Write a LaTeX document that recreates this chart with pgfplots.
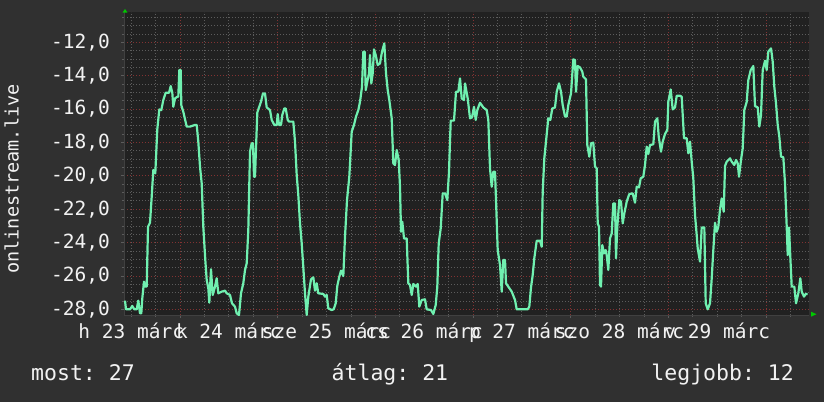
\documentclass[border=0pt]{standalone}
\usepackage{fontspec}
\setmainfont{DejaVu Sans Mono}
\usepackage{pgfplots}
\pgfplotsset{compat=1.18}
\frenchspacing
\definecolor{bgout}{RGB}{48,48,48}
\definecolor{bgplot}{RGB}{33,33,33}
\definecolor{mint}{RGB}{112,240,176}
\definecolor{gridmin}{RGB}{92,92,92}
\definecolor{gridmaj}{RGB}{130,50,50}
\definecolor{arrowgreen}{RGB}{0,200,0}
\definecolor{txt}{RGB}{242,242,242}
\definecolor{axgray}{RGB}{64,64,64}

\begin{document}
\frenchspacing
\begin{tikzpicture}[x=1bp,y=1bp]
\fill[bgout] (0,0) rectangle (824,402);
\begin{axis}[
  at={(124bp,87bp)}, anchor=south west,
  scale only axis, width=685bp, height=303bp,
  xmin=124, xmax=809, ymin=-28.34, ymax=-10.18,
  axis background/.style={fill=bgplot},
  axis x line*=bottom, axis y line*=left,
  axis line style={draw=axgray, line width=1bp},
  xtick={180,277.667,375.333,473,570.667,668.333,766},
  xticklabels={},
  minor xtick={131.17,155.58,204.42,228.83,253.25,302.08,326.5,350.92,399.75,424.17,448.58,497.42,521.83,546.25,595.08,619.5,643.92,692.75,717.17,741.58,790.42},
  ytick={-28,-26,-24,-22,-20,-18,-16,-14,-12},
  yticklabels={{-28,0},{-26,0},{-24,0},{-22,0},{-20,0},{-18,0},{-16,0},{-14,0},{-12,0}},
  minor ytick={-27.5,-27,-26.5,-25.5,-25,-24.5,-23.5,-23,-22.5,-21.5,-21,-20.5,-19.5,-19,-18.5,-17.5,-17,-16.5,-15.5,-15,-14.5,-13.5,-13,-12.5,-11.5,-11,-10.5},
  grid=both,
  major grid style={draw=gridmaj, line width=0.8bp, dash pattern=on 1bp off 2bp},
  minor grid style={draw=gridmin, line width=0.8bp, dash pattern=on 1bp off 2bp},
  tick align=outside,
  major tick length=3bp, minor tick length=2bp,
  every tick/.style={draw=gridmin, line width=0.8bp},
  tick label style={font=\fontsize{19.5bp}{22bp}\selectfont, text=txt},
  yticklabel style={anchor=east, inner sep=0pt, xshift=-11bp},
  extra x ticks={131.17,228.83,326.5,424.17,521.83,619.5,717.17},
  extra x tick labels={h 23 márc,k 24 márc,sze 25 márc,cs 26 márc,p 27 márc,szo 28 márc,v 29 márc},
  extra x tick style={grid=none, major tick length=0pt,
    xticklabel style={anchor=base, inner sep=0pt, yshift=-23bp}},
  clip=true,
]
\addplot[mint, line width=2.2bp, line join=round] coordinates {
(125,-27.48) (126,-28.0) (130,-28.0) (132.3,-27.8) (134.3,-28.0) (136.7,-28.0) (138.3,-27.48) (140,-28.24) (141.3,-28.24) (142.3,-27.34) (144,-26.34) (145,-26.64) (146.7,-26.64) (148,-23.05) (150,-22.81) (151.7,-21.25) (153.3,-19.65) (155.3,-19.85) (157.3,-17.21) (159.3,-16.02) (161.3,-16.06) (163.3,-15.46) (165.7,-15.02) (169,-15.02) (170.7,-14.62) (172.3,-15.02) (173.3,-15.86) (175,-15.36) (177.3,-15.26) (178.3,-15.26) (179.3,-13.66) (180.7,-13.66) (181.3,-15.76) (183.3,-16.16) (185,-16.61) (186.7,-17.05) (190,-17.05) (195,-16.95) (196.7,-16.95) (198.3,-17.95) (200,-19.45) (201.7,-20.45) (203.3,-23.05) (205.3,-25.04) (206.7,-26.24) (208.3,-26.74) (209.3,-27.6) (211,-25.6) (212.7,-27.14) (215,-26.64) (216.7,-26.14) (218.3,-27.04) (221.7,-26.94) (225,-26.88) (226.7,-27.04) (230,-27.14) (232,-27.64) (235,-27.84) (236.7,-28.24)
(239,-28.34) (241,-27.04) (243.3,-26.44) (245,-25.64) (246.7,-25.24) (248.3,-23.25) (250,-18.55) (251.7,-18.05) (253,-18.05) (254,-20.05) (255,-20.05) (256,-18.35) (257.3,-16.21) (259,-15.9) (261,-15.56) (263,-15.06) (265,-15.06) (266.7,-15.9) (270,-16.06) (271.7,-16.65) (274.3,-16.95) (276.7,-16.95) (277.7,-16.3) (279,-16.95) (281,-16.95) (282.3,-16.35) (284.3,-15.96) (285.7,-15.96) (287.7,-16.65) (289,-16.75) (293.3,-16.75) (295,-17.95) (296.7,-19.95) (298.3,-21.15) (300,-22.85) (301.7,-24.05) (303.3,-25.48) (305,-27.04) (306.7,-28.34) (308.3,-27.24) (311,-26.2) (313.3,-26.08) (315,-26.88) (316.7,-26.44) (318.3,-27.04) (323.3,-27.08) (325,-27.24) (326.7,-27.14) (328.3,-27.94) (331.7,-28.04) (333.7,-28.0) (335.7,-27.64) (337.3,-26.6) (339.3,-26.04) (341,-25.68) (343.3,-26.0) (345,-23.65) (347,-21.45) (349.3,-20.05)
(351.7,-17.35) (354,-16.95) (356,-16.45) (358.3,-16.06) (360,-15.56) (362,-14.66) (363.3,-12.56) (364.7,-12.56) (365.7,-14.86) (367.3,-14.36) (369,-13.86) (370,-12.76) (371.3,-14.46) (372.7,-13.86) (374,-12.42) (375.7,-12.76) (377.7,-13.36) (380,-13.26) (382,-12.56) (384.3,-12.06) (386,-13.86) (387.7,-14.86) (389.3,-15.46) (391.7,-16.55) (393.3,-19.25) (395,-19.35) (396.7,-18.45) (398.7,-19.05) (400,-20.65) (401,-23.35) (402.3,-22.75) (404,-23.75) (406.7,-23.75) (408.3,-26.44) (410,-26.54) (411.7,-27.14) (413.3,-26.48) (416,-26.64) (417.7,-26.48) (419.3,-27.84) (421.7,-27.44) (425,-27.4) (426.7,-28.0) (431,-28.04) (433.3,-28.28) (435.7,-27.74) (437.3,-26.64) (438.7,-24.05) (440.7,-23.15) (442.7,-21.05) (445,-21.05) (447.3,-21.45) (449,-19.75) (450.7,-16.69) (454,-16.69) (456,-14.96) (458.3,-14.96) (460,-14.16) (461.7,-15.36) (464,-15.46)
(465,-14.46) (467.7,-15.36) (470,-16.55) (472,-16.5) (474,-15.86) (475.7,-16.65) (477.3,-16.06) (480,-15.62) (483.3,-15.9) (486.7,-16.06) (488.3,-16.65) (490,-19.55) (491.7,-20.65) (493.3,-19.75) (495,-19.75) (496,-21.45) (497.7,-24.45) (500,-25.34) (501.7,-26.94) (503.3,-25.04) (505,-25.04) (506,-26.44) (508.3,-26.64) (511.7,-26.94) (515,-27.44) (516.7,-28.0) (527.7,-28.0) (529.3,-27.84) (531,-26.68) (532.7,-25.94) (534.3,-24.94) (536.7,-23.89) (540,-23.89) (541.7,-24.25) (542.7,-20.95) (544.3,-18.95) (546.3,-17.75) (548.3,-16.55) (550.3,-16.65) (552.3,-15.96) (555,-15.9) (556.7,-14.96) (559,-14.46) (561,-14.96) (562.7,-15.76) (565,-16.45) (566.7,-16.45) (568.3,-15.76) (571,-15.06) (573.3,-13.02) (575,-13.06) (576,-14.96) (577.7,-13.42) (580,-13.5) (582.3,-13.76)
(583.3,-14.06) (586,-14.22) (587.3,-18.15) (589.3,-18.85) (591,-18.05) (593.3,-18.01) (595,-19.45) (596.7,-19.55) (597.7,-22.85) (599,-23.05) (600,-26.54) (601,-26.64) (602.3,-24.15) (604,-24.65) (605.7,-24.45) (606.7,-24.75) (608.3,-25.64) (610,-23.75) (611.7,-23.45) (613.3,-21.65) (615,-21.65) (616,-24.94) (617.3,-23.05) (619.3,-21.45) (621,-21.55) (622.7,-22.85) (624.3,-22.25) (626.7,-21.55) (629.3,-21.09) (632.7,-21.05) (635,-21.61) (636.7,-20.65) (639,-20.69) (640.7,-20.15) (643.3,-20.05) (645,-19.35) (646.7,-18.25) (648.3,-18.69) (650,-18.15) (653.3,-18.11) (655,-16.75) (657.3,-16.55) (658.7,-17.65) (661,-18.55) (662.7,-17.95) (665,-17.49) (667.3,-17.25) (668.3,-15.56) (670.7,-14.82) (672.7,-16.02) (675,-15.9) (676.7,-15.2) (680,-15.2) (681.7,-15.26) (684,-17.75) (686.7,-17.75) (688.3,-18.65) (690,-17.95) (691.7,-19.15) (693.3,-20.15)
(695,-22.35) (696.7,-23.55) (697.7,-24.35) (700,-25.14) (701.7,-23.09) (704.3,-23.09) (705.7,-27.64) (707.7,-28.0) (710,-27.64) (711.7,-26.14) (713.3,-24.45) (715,-22.81) (716.7,-23.35) (718.3,-23.05) (720,-22.01) (721.7,-21.35) (723.7,-22.15) (725,-19.41) (726.7,-19.15) (730,-18.95) (731.7,-19.15) (734.3,-19.35) (736,-19.05) (737.7,-19.25) (739,-20.05) (741,-19.05) (742.7,-18.35) (744.3,-16.06) (746.7,-15.56) (748.3,-14.26) (750.7,-13.66) (753.3,-13.42) (755,-15.82) (757.7,-15.9) (759.3,-17.05) (761,-16.35) (762.7,-13.66) (765,-13.1) (766.7,-13.66) (768.3,-12.56) (771,-12.36) (772.7,-13.16) (774.3,-14.66) (776,-15.66) (777.7,-16.95) (779.3,-17.65) (781,-18.85) (783.3,-18.89) (785,-20.45) (786.7,-23.05) (787.7,-24.75) (789,-23.09) (790.3,-24.85) (791.7,-26.64) (794.3,-26.64) (796,-27.64) (798.3,-27.04) (800.3,-26.14) (801.7,-26.94) (804,-27.24) (805.7,-27.08) (807.7,-27.08)
};
\end{axis}
% axis arrows
\fill[arrowgreen] (122.5,389.3) -- (127.5,389.3) -- (125,393) -- cycle;
\fill[arrowgreen] (811,85.3) -- (811,90.3) -- (816.5,87.8) -- cycle;
% y axis title
\node[rotate=90, anchor=base, inner sep=0pt, text=txt, font=\fontsize{18.5bp}{21bp}\selectfont] at (18.5,223) {onlinestream.live};
% summary line
\node[anchor=base west, inner sep=0pt, text=txt, font=\fontsize{21.5bp}{24bp}\selectfont] at (31,22) {most: 27};
\node[anchor=base west, inner sep=0pt, text=txt, font=\fontsize{21.5bp}{24bp}\selectfont] at (331.5,22) {átlag: 21};
\node[anchor=base east, inner sep=0pt, text=txt, font=\fontsize{21.5bp}{24bp}\selectfont] at (794,22) {legjobb: 12};
\end{tikzpicture}
\end{document}
